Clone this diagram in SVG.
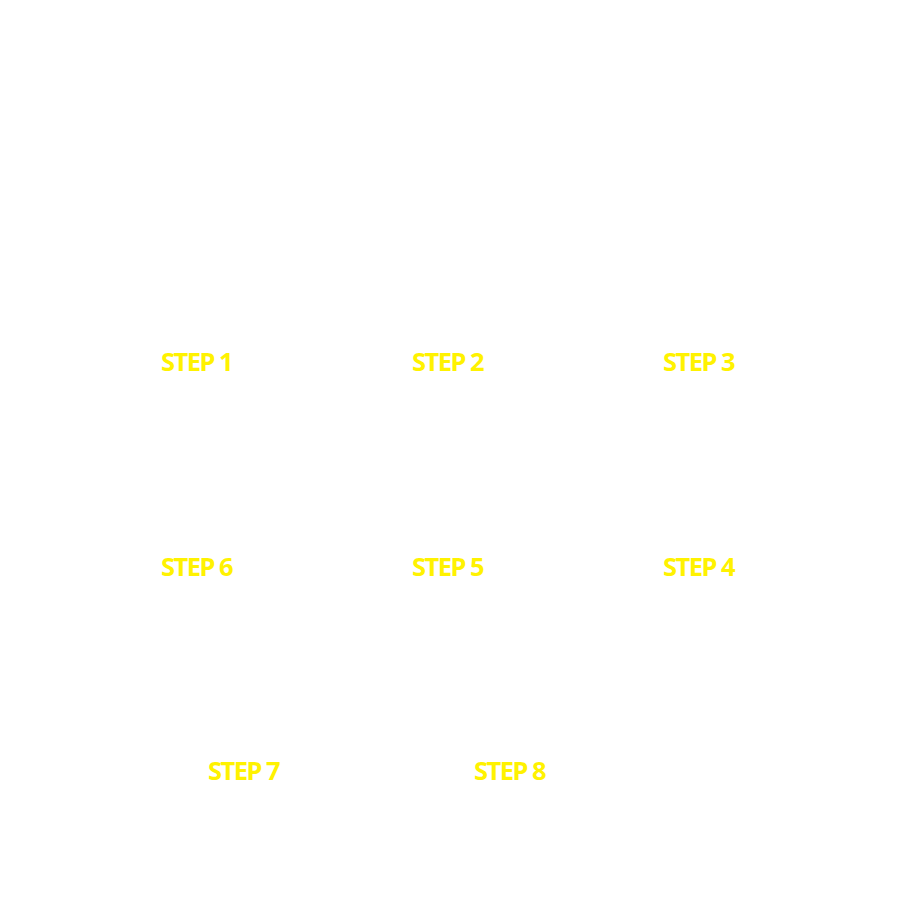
<svg xmlns="http://www.w3.org/2000/svg" width="923" height="902" viewBox="0 0 923 902">
<style>
.lbl{font-family:"Noto Sans","Liberation Sans",sans-serif;font-weight:700;font-size:25px;fill:#fff200;letter-spacing:-1.5px}
</style>
<rect width="923" height="902" fill="#ffffff"/>
<g id="step1"><text class="lbl" x="161" y="371" textLength="71" lengthAdjust="spacingAndGlyphs">STEP 1</text></g>
<g id="step2"><text class="lbl" x="412" y="371" textLength="71" lengthAdjust="spacingAndGlyphs">STEP 2</text></g>
<g id="step3"><text class="lbl" x="663" y="371" textLength="71" lengthAdjust="spacingAndGlyphs">STEP 3</text></g>
<g id="step4"><text class="lbl" x="663" y="576" textLength="71" lengthAdjust="spacingAndGlyphs">STEP 4</text></g>
<g id="step5"><text class="lbl" x="412" y="576" textLength="71" lengthAdjust="spacingAndGlyphs">STEP 5</text></g>
<g id="step6"><text class="lbl" x="161" y="576" textLength="71" lengthAdjust="spacingAndGlyphs">STEP 6</text></g>
<g id="step7"><text class="lbl" x="208" y="780" textLength="71" lengthAdjust="spacingAndGlyphs">STEP 7</text></g>
<g id="step8"><text class="lbl" x="474" y="780" textLength="71" lengthAdjust="spacingAndGlyphs">STEP 8</text></g>
<g id="connectors"></g>
</svg>
